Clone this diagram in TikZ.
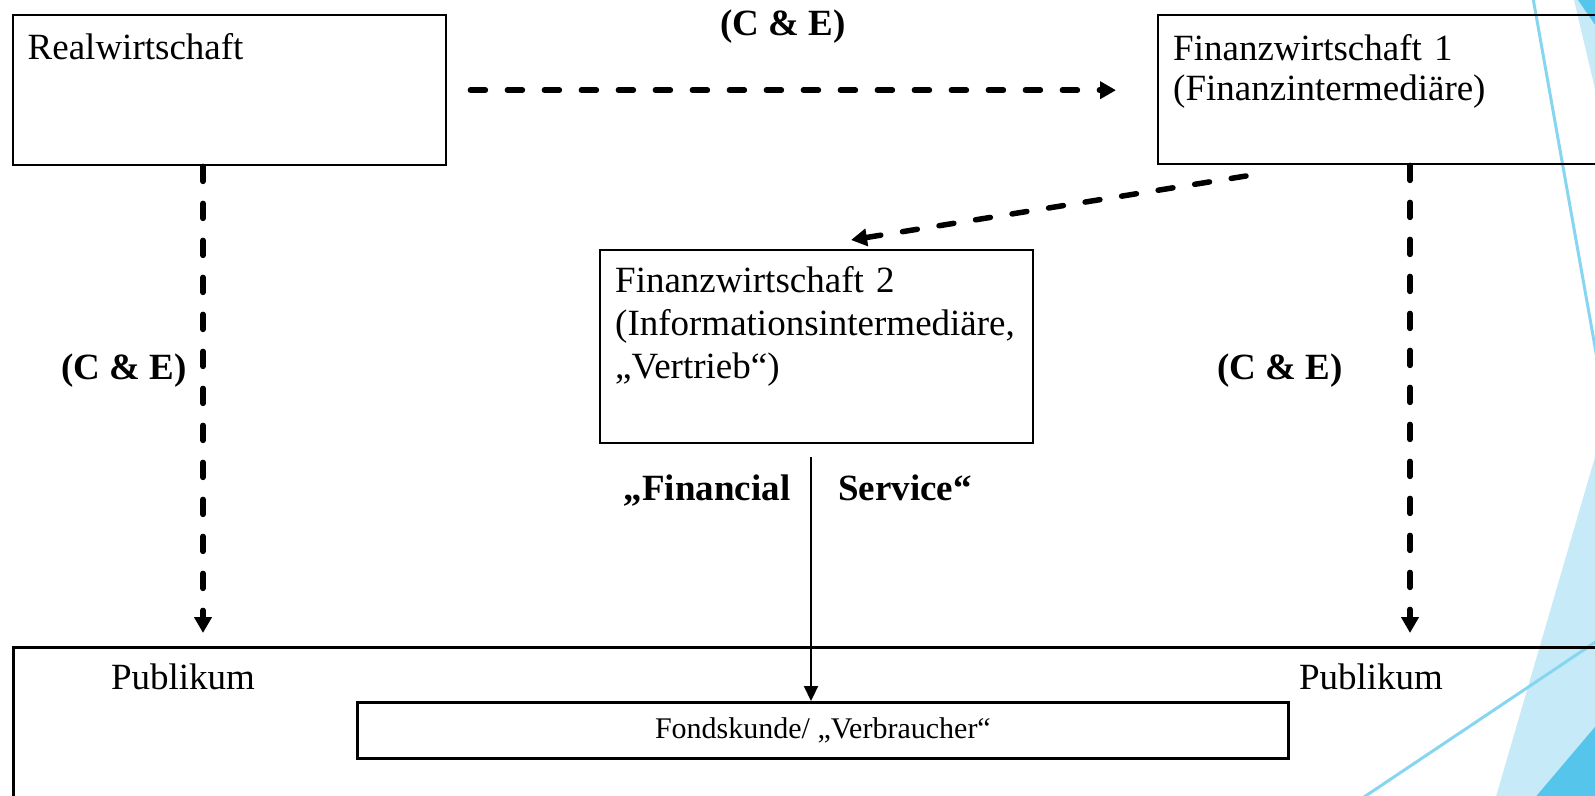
\documentclass[tikz,border=0pt]{standalone}
\usepackage{fontspec}
\setmainfont{Liberation Serif}
\usetikzlibrary{arrows.meta}
\definecolor{facetlight}{HTML}{C6EAF7}
\definecolor{facetdeep}{HTML}{56C5EB}
\definecolor{facetline}{HTML}{86D6F2}

\begin{document}
\begin{tikzpicture}[x=1pt,y=-1pt,
  box/.style={draw, line width=2.4pt, inner sep=0pt, anchor=north west},
  boxtext/.style={inner sep=0pt, anchor=base west, align=left, text width=430pt,
    font=\fontsize{37}{43}\selectfont},
  plain/.style={inner sep=0pt, font=\fontsize{37}{43}\selectfont},
  bold/.style={inner sep=0pt, font=\bfseries\fontsize{37}{43}\selectfont},
  dasharrow/.style={line width=5.5pt, line cap=round, dash pattern=on 15pt off 22pt,
    -{Triangle[length=16pt,width=17pt]}},
  solidarrow/.style={line width=2.2pt, -{Triangle[length=15pt,width=14pt]}},
  decoline/.style={draw=facetline, line width=3pt}
]
\useasboundingbox (0,0) rectangle (1595,795);

% background facets along the right edge
\fill[facetlight] (1574,0) -- (1600,0) -- (1600,110) -- cycle;
\fill[facetdeep] (1578,0) -- (1600,0) -- (1600,32) -- cycle;
\fill[facetlight] (1595,457) -- (1600,440) -- (1600,800) -- (1495,800) -- cycle;
\fill[facetdeep] (1600,721) -- (1600,800) -- (1533,800) -- cycle;
\draw[decoline] (1533,-2) -- (1600,375);
\draw[decoline] (1364,797) -- (1600,639);

% boxes
\node[box, minimum width=433pt, minimum height=150pt] (rw) at (12,14) {};
\node[box, minimum width=460pt, minimum height=149pt] (fin1) at (1157,14) {};
\node[box, minimum width=433pt, minimum height=193pt] (fin2) at (599,249) {};
\node[box, line width=2.8pt, minimum width=1600pt, minimum height=200pt] (pub) at (12,646) {};
\node[box, line width=2.8pt, minimum width=931pt, minimum height=56pt,
      font=\fontsize{30}{34}\selectfont] (fk) at (356,701) {Fondskunde/ „Verbraucher“};

% box texts
\node[boxtext] (rwt) at (27.5,59) {Realwirtschaft};
\node[boxtext, font=\fontsize{37}{40.5}\selectfont] (fin1t) at (1173,60)
  {Finanzwirtschaft 1\\(Finanzintermediäre)};
\node[boxtext] (fin2t) at (615,292)
  {Finanzwirtschaft 2\\(Informationsintermediäre,\\„Vertrieb“)};
\node[plain] (publ) at (183,677) {Publikum};
\node[plain] (pubr) at (1371,677) {Publikum};

% labels
\node[bold] (cetop) at (783,27) {(C \& E)};
\node[bold] (celeft) at (124,371) {(C \& E)};
\node[bold] (ceright) at (1280,371) {(C \& E)};
\node[bold, anchor=base] (fsa) at (707,500) {„Financial};
\node[bold, anchor=base] (fsb) at (905,500) {Service“};

% connector guide coordinates
\coordinate (lx) at (203,0);
\coordinate (rx) at (1410,0);
\coordinate (mx) at (811,0);
\coordinate (dstart) at (1246,176);
\coordinate (dend) at (851,240);

% connectors
\draw[dasharrow, shorten <=23pt, shorten >=41pt] (rw.east) -- (fin1.west |- rw.east);
\draw[dasharrow] (rw.south -| lx) -- ([yshift=13pt]pub.north -| lx);
\draw[dasharrow] (fin1.south -| rx) -- ([yshift=13pt]pub.north -| rx);
\draw[dasharrow] (dstart) -- (dend);
\draw[solidarrow, shorten <=13pt] (fin2.south -| mx) -- (fk.north -| mx);
\end{tikzpicture}
\end{document}
